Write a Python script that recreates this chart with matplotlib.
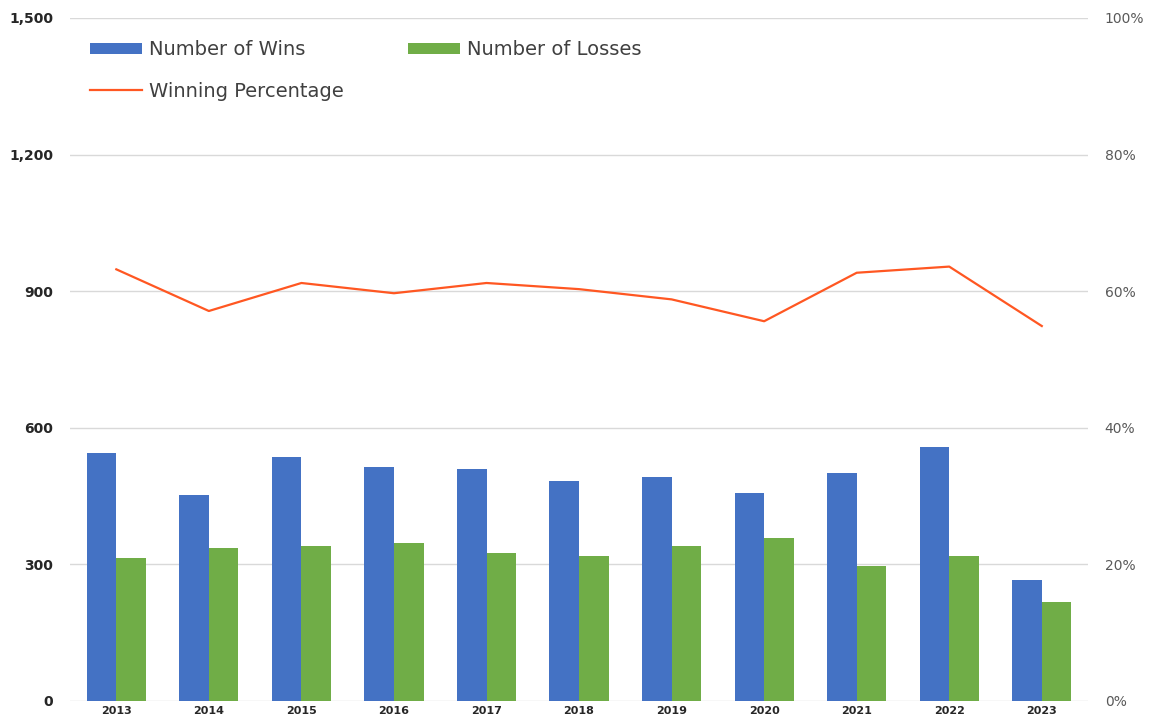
import matplotlib
matplotlib.use("Agg")
import matplotlib.pyplot as plt
import numpy as np
from matplotlib.ticker import FuncFormatter

years = ["2013", "2014", "2015", "2016", "2017", "2018",
         "2019", "2020", "2021", "2022", "2023"]
wins = [545, 452, 536, 514, 509, 484, 492, 457, 501, 558, 266]
losses = [315, 337, 341, 346, 324, 319, 341, 359, 297, 319, 217]
win_pct = [0.632, 0.571, 0.612, 0.597, 0.612, 0.603,
           0.588, 0.556, 0.627, 0.636, 0.549]

BLUE = "#4472C4"
GREEN = "#70AD47"
ORANGE = "#FF5722"
GRID = "#D9D9D9"

fig = plt.figure(figsize=(11.52, 7.28), dpi=100)
ax = fig.add_axes([0.0608, 0.0371, 0.8837, 0.9382])
ax2 = ax.twinx()

x = np.arange(len(years))
w = 0.32
b1 = ax.bar(x - w / 2, wins, width=w, color=BLUE, label="Number of Wins", zorder=3)
b2 = ax.bar(x + w / 2, losses, width=w, color=GREEN, label="Number of Losses", zorder=3)
ln, = ax2.plot(x, win_pct, color=ORANGE, lw=1.6, label="Winning Percentage")

ax.set_xlim(-0.5, len(years) - 0.5)
ax.set_ylim(0, 1500)
ax.set_yticks(np.arange(0, 1501, 300))
ax.yaxis.set_major_formatter(FuncFormatter(lambda v, p: f"{int(v):,}"))
ax.grid(axis="y", color=GRID, lw=1, zorder=0)
ax.set_axisbelow(True)
ax.set_xticks(x)
ax.set_xticklabels(years, fontsize=8, fontweight="bold", color="#262626")
ax.tick_params(axis="both", length=0)
ax.tick_params(axis="y", labelsize=10, labelcolor="#262626", pad=12)
for lbl in ax.get_yticklabels():
    lbl.set_fontweight("bold")

ax2.set_ylim(0, 1)
ax2.set_yticks(np.arange(0, 1.01, 0.2))
ax2.yaxis.set_major_formatter(FuncFormatter(lambda v, p: f"{v:.0%}"))
ax2.tick_params(axis="y", length=0, labelsize=10, labelcolor="#595959", pad=12)

for a in (ax, ax2):
    for s in a.spines.values():
        s.set_visible(False)

ax.legend([b1, ln, b2], ["Number of Wins", "Winning Percentage", "Number of Losses"],
          ncol=2, loc="upper left", bbox_to_anchor=(0.002, 0.993), frameon=False,
          fontsize=14, labelcolor="#404040", handlelength=2.7, handleheight=0.5,
          columnspacing=3.3, labelspacing=1.15, handletextpad=0.35)

fig.savefig("out.png", dpi=100)
